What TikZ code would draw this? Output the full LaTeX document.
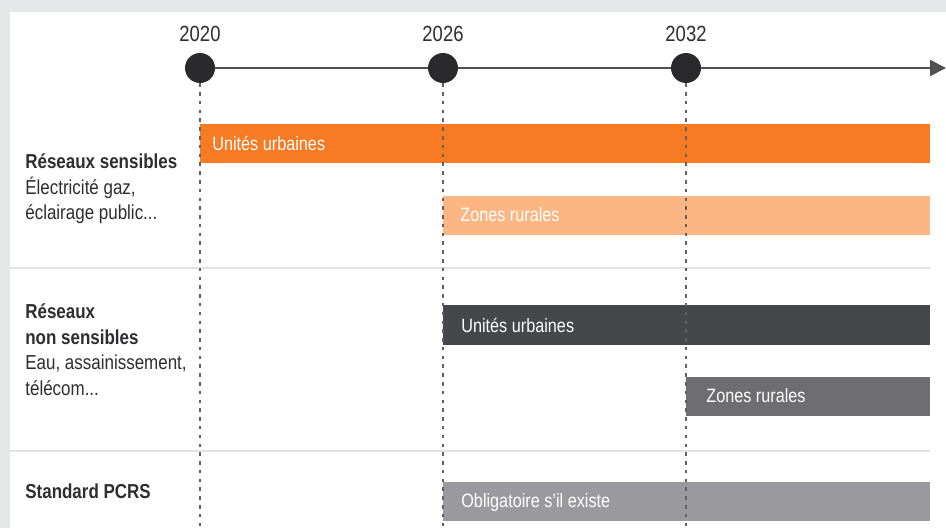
\documentclass[tikz,border=0pt]{standalone}
\usepackage{fontspec}
\setmainfont[FakeStretch=0.84]{Liberation Sans}
\usetikzlibrary{arrows.meta}

\definecolor{panelgray}{HTML}{E6E7E9}
\definecolor{dotgray}{HTML}{2A2A2C}
\definecolor{axisgray}{HTML}{505053}
\definecolor{guidegray}{HTML}{606165}
\definecolor{sepgray}{HTML}{E2E2E4}
\definecolor{labelgray}{HTML}{2E2E30}
\definecolor{orangeA}{HTML}{F67B24}
\definecolor{orangeB}{HTML}{FCB684}
\definecolor{darkA}{HTML}{46474B}
\definecolor{greyB}{HTML}{6E6E72}
\definecolor{greyC}{HTML}{9A9A9E}

\tikzset{
  dot/.style={circle,fill=dotgray,minimum size=0.6cm,inner sep=0pt},
  yearlabel/.style={inner sep=0pt,text=labelgray,font=\fontsize{12.5}{14}\selectfont},
  axis/.style={draw=axisgray,line width=1.2pt},
  guide/.style={draw=guidegray,line width=0.6pt,dash pattern=on 2pt off 3pt},
  rowsep/.style={draw=sepgray,line width=0.8pt},
  bartext/.style={anchor=west,inner sep=0pt,text=white,font=\fontsize{11}{13}\selectfont},
  rowlabel/.style={anchor=north west,inner sep=0pt,align=left,text=labelgray,
    font=\fontsize{11.5}{14.7}\selectfont},
}

\begin{document}
\begin{tikzpicture}[x=0.02cm,y=-0.02cm]
  % frame
  \fill[panelgray] (0,0) rectangle (946,528);
  \fill[white] (10,12) rectangle (946,528);
  \useasboundingbox (0,0) rectangle (946,528);
  \coordinate (bottom) at (0,528);

  % timeline
  \node[dot] (d2020) at (200,68) {};
  \node[dot] (d2026) at (443,68) {};
  \node[dot] (d2032) at (686,68) {};
  \coordinate (axisend) at (946,68);
  \node[yearlabel] (y2020) at (200,34) {2020};
  \node[yearlabel] (y2026) at (443,34) {2026};
  \node[yearlabel] (y2032) at (686,34) {2032};
  \draw[axis] (d2020.east) -- (d2026.west);
  \draw[axis] (d2026.east) -- (d2032.west);
  \draw[axis,-{Triangle[length=9pt,width=9pt]}] (d2032.east) -- (axisend);

  % row separators
  \draw[rowsep] (10,268) -- (930,268);
  \draw[rowsep] (10,451) -- (930,451);

  % bars
  \fill[orangeA] (200,124) rectangle (930,163);
  \node[bartext] (sensUrb) at (212,143) {Unités urbaines};
  \fill[orangeB] (443,196) rectangle (930,235);
  \node[bartext] (sensRur) at (460,215) {Zones rurales};
  \fill[darkA] (443,305) rectangle (930,345);
  \node[bartext] (nonsUrb) at (461,325) {Unités urbaines};
  \fill[greyB] (686,377) rectangle (930,416);
  \node[bartext] (nonsRur) at (706,396) {Zones rurales};
  \fill[greyC] (443,482) rectangle (930,521);
  \node[bartext] (pcrs) at (461,502) {Obligatoire s'il existe};

  % guides
  \foreach \d in {d2020,d2026,d2032}
    \draw[guide] (\d.south) -- (\d.south |- bottom);

  % row labels
  \node[rowlabel] (lSens) at (25,153)
    {\textbf{Réseaux sensibles}\\Électricité gaz,\\éclairage public...};
  \node[rowlabel] (lNons) at (25,303)
    {\textbf{Réseaux}\\\textbf{non sensibles}\\Eau, assainissement,\\télécom...};
  \node[rowlabel] (lPcrs) at (25,483) {\textbf{Standard PCRS}};
\end{tikzpicture}
\end{document}
